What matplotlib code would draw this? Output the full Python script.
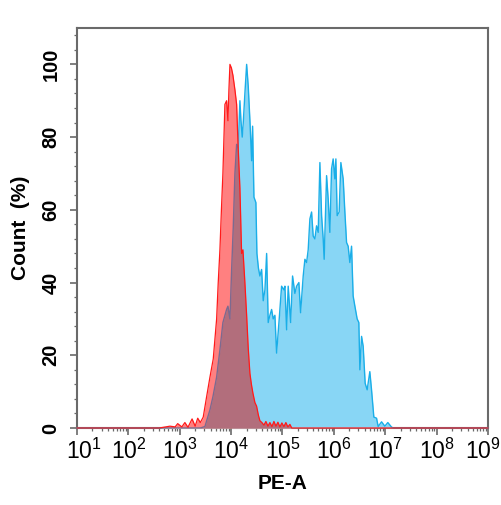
import numpy as np
import matplotlib
matplotlib.use('Agg')
import matplotlib.pyplot as plt
from matplotlib.ticker import FixedLocator, MultipleLocator, LogLocator, FuncFormatter, NullFormatter
from matplotlib.transforms import ScaledTranslation

# ---- data (x as log10 of PE-A, y as Count %) ----
red_log = [1.0, 2.60, 2.81, 2.91, 2.96, 3.04, 3.10, 3.16, 3.24, 3.30, 3.35, 3.40, 3.457, 3.523, 3.588,
           3.652, 3.718, 3.749, 3.782, 3.811, 3.840, 3.879, 3.912, 3.938, 3.957, 3.977, 4.006, 4.035,
           4.074, 4.107, 4.132, 4.171, 4.204, 4.230, 4.268, 4.302, 4.333, 4.366, 4.395, 4.424, 4.463,
           4.496, 4.531, 4.560, 4.599, 4.638, 4.677, 4.716, 4.755, 4.794, 4.833, 4.872, 4.911, 4.949,
           4.988, 5.027, 5.066, 5.105, 5.144, 5.18, 9.0]
red_count = [0, 0, 0.5, 0.3, 1.2, 0.3, 1.5, 0.2, 2.5, 0.5, 2.7, 1.5, 3, 8.6, 14,
             19, 30, 40, 49, 60, 70, 89, 90, 84.5, 93, 100, 99, 97,
             93, 89, 79, 66, 48, 49, 40, 31, 22, 15, 12, 9.6, 7,
             6, 3.5, 2, 1.5, 0.8, 1.8, 0.5, 1.5, 0.4, 1.8, 0.5, 1.6, 0.3,
             1.4, 0.4, 1.5, 0.3, 1.0, 0, 0]

blue_log = [1.0, 3.40, 3.49, 3.588, 3.646, 3.718, 3.782, 3.840, 3.912, 3.938, 3.977, 4.010, 4.041,
            4.074, 4.107, 4.138, 4.171, 4.191, 4.216, 4.235, 4.268, 4.302, 4.333, 4.366, 4.399,
            4.418, 4.444, 4.482, 4.502, 4.531, 4.560, 4.593, 4.625, 4.658, 4.691, 4.722, 4.755,
            4.788, 4.819, 4.852, 4.885, 4.936, 4.982, 5.027, 5.047, 5.080, 5.111, 5.158, 5.196,
            5.241, 5.274, 5.319, 5.352, 5.403, 5.436, 5.469, 5.500, 5.533, 5.566, 5.597, 5.630,
            5.663, 5.695, 5.728, 5.761, 5.792, 5.811, 5.858, 5.889, 5.922, 5.955, 5.986, 6.019,
            6.039, 6.064, 6.103, 6.136, 6.181, 6.214, 6.247, 6.278, 6.311, 6.344, 6.375, 6.409,
            6.453, 6.486, 6.506, 6.539, 6.570, 6.609, 6.648, 6.700, 6.733, 6.778, 6.831, 6.862,
            6.928, 6.992, 7.05, 7.12, 7.15, 9.0]
blue_count = [0, 0, 0.4, 5, 8.6, 14, 21.5, 29, 32.6, 33.5, 30, 43.6, 55,
              70, 78, 77, 90, 84.6, 80, 83.7, 92, 100, 94, 84.5, 73.5,
              83, 63.5, 62, 48, 44, 41.8, 43.6, 35, 38, 48, 29, 31,
              32.6, 30, 31, 20.6, 30, 39, 38, 39, 27, 39, 29, 41.8,
              37, 39, 40, 31.7, 41.8, 46.4, 45.5, 49, 57.5, 59.4, 52.8, 52,
              55.6, 53.8, 73, 58.4, 52, 46.4, 69.4, 63, 53.8, 71.3, 74, 68.5,
              74, 58.4, 59.4, 73, 68.5, 59.4, 51, 50, 45.5, 50, 36.3, 33.5,
              30, 29, 16, 25.2, 22.5, 12.3, 10.5, 15.5, 10.5, 3, 2.7, 0.4,
              1.7, 0.5, 1.5, 0.3, 0, 0]

x_decades = [1, 2, 3, 4, 5, 6, 7, 8, 9]
y_ticks = [0, 20, 40, 60, 80, 100]

# ---- style ----
plt.rcParams['font.family'] = ['Liberation Sans', 'DejaVu Sans']
plt.rcParams['mathtext.fontset'] = 'custom'
plt.rcParams['mathtext.rm'] = 'Liberation Sans'
plt.rcParams['mathtext.it'] = 'Liberation Sans:italic'
plt.rcParams['mathtext.bf'] = 'Liberation Sans:bold'

RED_FILL = '#ff8080'
RED_LINE = '#ff1a1a'
BLUE_FILL = '#88d6f5'
BLUE_LINE = '#1aaee8'
OVERLAP = '#b26e7c'
OVERLAP_LINE = '#7c6a90'
SPINE = '#6a6a6a'

fig = plt.figure(figsize=(5.02, 5.05), dpi=100)
ax = fig.add_axes([77 / 502, 1 - 428 / 505, 411 / 502, 400 / 505])
ax.set_xscale('log')

rx = 10.0 ** np.array(red_log)
ry = np.array(red_count)
bx = 10.0 ** np.array(blue_log)
by = np.array(blue_count)

ax.fill_between(bx, 0, by, color=BLUE_FILL, lw=0, zorder=1)
ax.plot(bx, by, color=BLUE_LINE, lw=1.0, zorder=2, clip_on=False)
red_poly = ax.fill_between(rx, 0, ry, color=RED_FILL, lw=0, zorder=3)
ov = ax.fill_between(bx, 0, by, color=OVERLAP, lw=0, zorder=4)
clip_path = red_poly.get_paths()[0]
ov.set_clip_path(clip_path, ax.transData)
bl2, = ax.plot(bx, by, color=OVERLAP_LINE, lw=1.0, zorder=5)
bl2.set_clip_path(clip_path, ax.transData)
ax.plot(rx, ry, color=RED_LINE, lw=0.9, zorder=6, clip_on=False)

ax.set_xlim(10.0 ** x_decades[0], 10.0 ** x_decades[-1])
ax.set_ylim(0, 110)

ax.xaxis.set_major_locator(FixedLocator([10.0 ** d for d in x_decades]))
ax.xaxis.set_minor_locator(LogLocator(base=10, subs=np.arange(2, 10), numticks=20))
ax.xaxis.set_minor_formatter(NullFormatter())
ax.xaxis.set_major_formatter(FuncFormatter(
    lambda v, p: r'$\mathregular{10^{%d}}$' % int(round(np.log10(v)))))
ax.yaxis.set_major_locator(FixedLocator(y_ticks))
ax.yaxis.set_minor_locator(MultipleLocator(4))

for s in ax.spines.values():
    s.set_color(SPINE)
    s.set_linewidth(1.5)
    s.set_zorder(0.5)

ax.tick_params(axis='both', which='major', direction='out', length=5, width=1.2,
               color=SPINE, top=False, right=False)
ax.tick_params(axis='both', which='minor', direction='out', length=2.5, width=0.9,
               color=SPINE, top=False, right=False)
ax.tick_params(axis='x', which='major', labelsize=16.5, pad=3)
ax.tick_params(axis='y', which='major', labelsize=14.5, pad=7)
for lab in ax.get_yticklabels():
    lab.set_rotation(90)
    lab.set_fontweight('bold')
    lab.set_va('center')

# nudge the outermost decade labels so they stay inside the figure
xticks = ax.xaxis.get_major_ticks()
xticks[0].label1.set_transform(xticks[0].label1.get_transform()
                               + ScaledTranslation(7 / 100, 0, fig.dpi_scale_trans))
xticks[-1].label1.set_transform(xticks[-1].label1.get_transform()
                                + ScaledTranslation(-5 / 100, 0, fig.dpi_scale_trans))

ax.set_ylabel('Count  (%)', fontsize=15, fontweight='bold')
ax.yaxis.set_label_coords(-0.115, 0.5)
ax.set_xlabel('PE-A', fontsize=15, fontweight='bold')
ax.xaxis.set_label_coords(0.5, -0.115)

fig.savefig('out.png', dpi=100)
